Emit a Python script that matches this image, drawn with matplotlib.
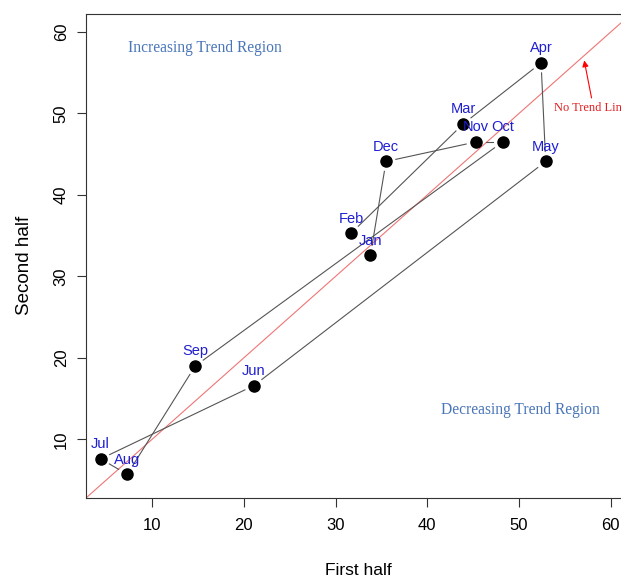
import numpy as np
import matplotlib
matplotlib.use("Agg")
import matplotlib.pyplot as plt

# monthly values, in the order the points are joined (Feb ... Jan)
months = ["Feb", "Mar", "Apr", "May", "Jun", "Jul", "Aug", "Sep", "Oct", "Nov", "Dec", "Jan"]
first_half = [31.7, 43.9, 52.4, 52.9, 21.1, 4.4, 7.3, 14.7, 48.2, 45.3, 35.5, 33.8]
second_half = [35.3, 48.7, 56.2, 44.1, 16.6, 7.6, 5.7, 19.0, 46.5, 46.5, 44.1, 32.6]

ticks = [10, 20, 30, 40, 50, 60]
rng = (5, 60)  # R style range, padded by 4% each side below


def gap_lines(ax, x, y, gap=10):
    # like R type="b": segments stop short of the points
    pts = ax.transData.transform(np.column_stack([x, y]))
    inv = ax.transData.inverted()
    for p0, p1 in zip(pts[:-1], pts[1:]):
        d = p1 - p0
        n = np.hypot(d[0], d[1])
        if n <= 2 * gap:
            continue
        u = d / n
        seg = inv.transform(np.array([p0 + u * gap, p1 - u * gap]))
        ax.plot(seg[:, 0], seg[:, 1], color="#555555", lw=0.8, zorder=2)


plt.rcParams["font.family"] = ["Liberation Sans", "DejaVu Sans"]

fig = plt.figure(figsize=(6.21, 5.78), dpi=100)
ax = fig.add_axes([86 / 621, 80 / 578, 545 / 621, 484 / 578])

pad = 0.04 * (rng[1] - rng[0])
ax.set_xlim(rng[0] - pad, rng[1] + pad)
ax.set_ylim(rng[0] - pad, rng[1] + pad)

# no trend line y = x
ax.axline((0, 0), slope=1, color="#f07575", lw=0.8, zorder=1)

gap_lines(ax, first_half, second_half)
ax.plot(first_half, second_half, "o", color="black", ms=8, zorder=3)

for m, x, y in zip(months, first_half, second_half):
    ax.annotate(m, (x, y), xytext=(0, 10.5), textcoords="offset points",
                ha="center", va="center", color="#1f1fd0", fontsize=10.5)

ax.text(15.75, 58.0, "Increasing Trend Region", family="Liberation Serif",
        color="#4a76b8", fontsize=11.2, ha="center", va="center")
ax.text(50.1, 13.65, "Decreasing Trend Region", family="Liberation Serif",
        color="#4a76b8", fontsize=11.2, ha="center", va="center")
ax.text(53.8, 50.7, "No Trend Line", family="Liberation Serif",
        color="#e02020", fontsize=9, ha="left", va="center")
ax.annotate("", xy=(57.1, 56.5), xytext=(57.9, 51.9),
            arrowprops=dict(arrowstyle="-|>", color="red", lw=0.8,
                            mutation_scale=9, shrinkA=0, shrinkB=0))

ax.set_xticks(ticks)
ax.set_yticks(ticks)
ax.tick_params(direction="out", length=6.5, width=0.8, labelsize=12, color="#333333")
ax.tick_params(axis="x", pad=8)
ax.tick_params(axis="y", pad=6, labelrotation=90)
for lab in ax.get_yticklabels():
    lab.set_va("center")
for s in ax.spines.values():
    s.set_linewidth(0.8)
    s.set_color("#333333")

ax.set_xlabel("First half", fontsize=12.5)
ax.set_ylabel("Second half", fontsize=13.5)
ax.xaxis.set_label_coords(0.5, -0.1508)
ax.xaxis.label.set_va("center")
ax.yaxis.set_label_coords(-0.113, 0.48)
ax.yaxis.label.set_va("center")

fig.savefig("out.png", dpi=100)
